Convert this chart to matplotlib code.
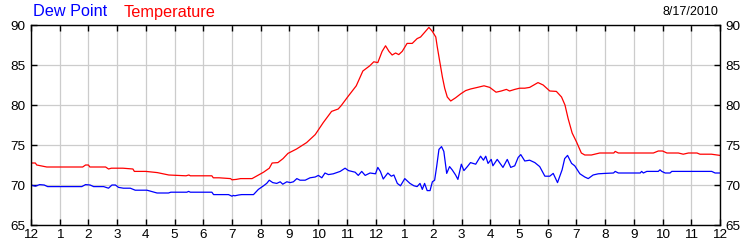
import matplotlib.pyplot as plt

# temperature readings (hour of day, deg F)
temp_hours = [0, 0.15, 0.2, 0.55, 1.8, 1.9, 2.0, 2.05, 2.6, 2.7, 2.8, 3.2, 3.55, 3.6, 4.0, 4.4, 4.8,
              5.4, 5.5, 5.55, 6.3, 6.35, 6.55, 6.95, 7.0, 7.15, 7.3, 7.7, 7.85, 8.1, 8.3, 8.4, 8.6,
              8.78, 8.95, 9.25, 9.6, 9.9, 10.18, 10.47, 10.7, 10.8, 11.05, 11.33, 11.56, 11.8, 11.94,
              12.08, 12.23, 12.35, 12.47, 12.58, 12.7, 12.81, 12.93, 13.1, 13.28, 13.45, 13.57, 13.74,
              13.86, 13.98, 14.1, 14.15, 14.23, 14.33, 14.41, 14.5, 14.62, 14.79, 14.97, 15.14, 15.31,
              15.55, 15.78, 15.98, 16.2, 16.38, 16.56, 16.67, 16.85, 17.02, 17.2, 17.37, 17.66, 17.84,
              18.07, 18.3, 18.48, 18.6, 18.71, 18.85, 19.0, 19.17, 19.29, 19.52, 19.81, 20.3, 20.35,
              20.46, 21.68, 21.85, 22.0, 22.15, 22.55, 22.72, 22.9, 23.2, 23.3, 23.7, 24.0]
temp_values = [72.75, 72.75, 72.5, 72.25, 72.25, 72.5, 72.5, 72.25, 72.25, 72.0, 72.1, 72.1, 72.0, 71.7,
               71.7, 71.55, 71.25, 71.15, 71.25, 71.15, 71.15, 70.9, 70.9, 70.8, 70.65, 70.7, 70.8,
               70.8, 71.1, 71.6, 72.1, 72.75, 72.8, 73.3, 73.95, 74.5, 75.3, 76.3, 77.8, 79.2, 79.5,
               79.9, 81.1, 82.4, 84.25, 84.9, 85.4, 85.3, 86.7, 87.4, 86.7, 86.25, 86.5, 86.3, 86.7,
               87.7, 87.7, 88.3, 88.5, 89.2, 89.7, 89.2, 88.5, 87.3, 85.6, 83.5, 82.1, 81.0, 80.5,
               80.9, 81.4, 81.8, 82.0, 82.2, 82.4, 82.2, 81.6, 81.75, 81.95, 81.75, 81.95, 82.1, 82.1,
               82.2, 82.8, 82.5, 81.75, 81.7, 81.0, 80.0, 78.3, 76.5, 75.4, 74.0, 73.75, 73.75, 74.0,
               74.0, 74.2, 74.0, 74.0, 74.25, 74.25, 74.0, 74.0, 73.85, 74.0, 74.0, 73.85, 73.85, 73.7]

# dew point readings (hour of day, deg F)
dew_hours = [0, 0.15, 0.3, 0.46, 0.58, 1.77, 1.9, 2.06, 2.18, 2.53, 2.7, 2.82, 2.94, 3.05, 3.22, 3.46,
             3.63, 4.04, 4.39, 4.79, 4.87, 5.43, 5.49, 5.55, 6.3, 6.36, 6.88, 7.0, 7.05, 7.1, 7.23,
             7.34, 7.75, 7.92, 8.1, 8.21, 8.3, 8.42, 8.56, 8.68, 8.77, 8.91, 9.03, 9.14, 9.26, 9.37,
             9.55, 9.72, 9.9, 10.01, 10.13, 10.24, 10.36, 10.53, 10.77, 10.94, 11.06, 11.29, 11.4,
             11.52, 11.64, 11.81, 12.0, 12.08, 12.17, 12.27, 12.43, 12.55, 12.64, 12.76, 12.87, 13.02,
             13.2, 13.34, 13.45, 13.55, 13.63, 13.71, 13.8, 13.9, 13.98, 14.06, 14.13, 14.21, 14.3,
             14.38, 14.48, 14.58, 14.67, 14.79, 14.87, 14.99, 15.08, 15.2, 15.31, 15.49, 15.66, 15.76,
             15.84, 15.92, 16.03, 16.09, 16.24, 16.44, 16.59, 16.71, 16.85, 16.97, 17.06, 17.2, 17.37,
             17.55, 17.72, 17.9, 18.07, 18.19, 18.34, 18.5, 18.59, 18.69, 18.83, 18.94, 19.12, 19.29,
             19.41, 19.58, 19.76, 19.99, 20.29, 20.35, 20.46, 21.22, 21.27, 21.33, 21.45, 21.85,
             21.91, 21.97, 22.09, 22.26, 22.32, 23.71, 23.83, 24.0]
dew_values = [70.0, 69.85, 70.05, 70.0, 69.8, 69.8, 70.05, 70.0, 69.8, 69.8, 69.6, 70.0, 70.0, 69.7,
              69.6, 69.6, 69.35, 69.35, 69.0, 69.0, 69.1, 69.1, 69.2, 69.1, 69.1, 68.8, 68.8, 68.6,
              68.7, 68.65, 68.75, 68.8, 68.8, 69.45, 69.9, 70.2, 70.6, 70.3, 70.2, 70.4, 70.1, 70.4,
              70.3, 70.4, 70.8, 70.6, 70.6, 70.9, 71.0, 71.2, 70.9, 71.5, 71.3, 71.4, 71.7, 72.1, 71.8,
              71.6, 71.2, 71.7, 71.2, 71.5, 71.4, 72.2, 71.7, 70.75, 71.5, 71.1, 71.25, 70.2, 69.9,
              70.8, 70.2, 69.9, 69.8, 70.2, 69.45, 70.2, 69.3, 69.3, 70.4, 70.6, 72.3, 74.45, 74.8,
              74.2, 71.45, 72.3, 71.9, 71.25, 70.7, 72.6, 71.8, 72.3, 72.8, 72.6, 73.6, 73.1, 73.6,
              72.7, 73.2, 72.4, 73.2, 72.2, 73.2, 72.2, 72.4, 73.45, 73.8, 73.0, 73.1, 72.8, 72.3,
              71.1, 71.1, 71.45, 70.3, 71.9, 73.3, 73.7, 72.7, 72.4, 71.4, 71.0, 70.8, 71.25, 71.4,
              71.45, 71.5, 71.7, 71.5, 71.5, 71.7, 71.5, 71.7, 71.7, 71.9, 71.7, 71.5, 71.5, 71.7,
              71.7, 71.5, 71.5]

x_ticks = list(range(25))
x_labels = ['12'] + [str(h) for h in range(1, 12)] + ['12'] + [str(h) for h in range(1, 12)] + ['12']
y_ticks = [65, 70, 75, 80, 85, 90]

plt.rcParams['font.family'] = ['Liberation Sans', 'DejaVu Sans']

fig = plt.figure(figsize=(7.5, 2.5), dpi=100)
ax = fig.add_axes([31 / 750, 25 / 250, 689 / 750, 200 / 250])

ax.plot(temp_hours, temp_values, color='#ff0000', lw=0.9)
ax.plot(dew_hours, dew_values, color='#0000ff', lw=0.9)

ax.set_xlim(0, 24)
ax.set_ylim(65, 90)
ax.set_xticks(x_ticks)
ax.set_xticklabels(x_labels)
ax.set_yticks(y_ticks)
ax.grid(True, color='#cccccc', lw=0.9)
ax.tick_params(direction='in', length=4, width=1, labelsize=9.7, colors='black',
               top=True, right=True, labelright=True, pad=3)
ax.tick_params(axis='y', pad=4)
for s in ax.spines.values():
    s.set_linewidth(1)
    s.set_color('black')

# legend-style titles at the top
fig.text(33 / 750, 1 - 12 / 250, 'Dew Point', color='#0000ff', fontsize=11.7, va='center', ha='left')
fig.text(124 / 750, 1 - 12 / 250, 'Temperature', color='#ff0000', fontsize=11.7, va='center', ha='left')
fig.text(718 / 750, 1 - 12 / 250, '8/17/2010', color='black', fontsize=9, va='center', ha='right')

fig.savefig('out.png', dpi=100)
